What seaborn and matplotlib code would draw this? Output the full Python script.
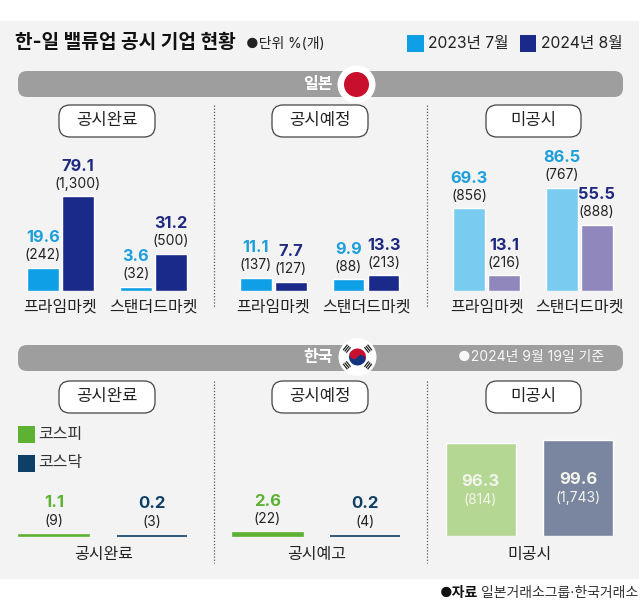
import numpy as np
import pandas as pd
import matplotlib
matplotlib.use('Agg')
import matplotlib.pyplot as plt
from matplotlib.patches import Rectangle, FancyBboxPatch, Circle, Wedge
import seaborn as sns

sns.set_theme(style='white')
plt.rcParams['font.family'] = ['Inter', 'Noto Sans CJK KR', 'DejaVu Sans']

# Japan data, % and (count)
markets = ['프라임마켓', '스탠더드마켓']
years = ['2023년 7월', '2024년 8월']
jp_done_23 = [19.6, 3.6]
jp_done_24 = [79.1, 31.2]
jp_done_n23 = ['(242)', '(32)']
jp_done_n24 = ['(1,300)', '(500)']
jp_plan_23 = [11.1, 9.9]
jp_plan_24 = [7.7, 13.3]
jp_plan_n23 = ['(137)', '(88)']
jp_plan_n24 = ['(127)', '(213)']
jp_none_23 = [69.3, 86.5]
jp_none_24 = [13.1, 55.5]
jp_none_n23 = ['(856)', '(767)']
jp_none_n24 = ['(216)', '(888)']

# Korea data
kr_groups = ['코스피', '코스닥']
kr_done = [1.1, 0.2]
kr_done_n = ['(9)', '(3)']
kr_plan = [2.6, 0.2]
kr_plan_n = ['(22)', '(4)']
kr_none = [96.3, 99.6]
kr_none_n = ['(814)', '(1,743)']

panel_titles = ['공시완료', '공시예정', '미공시']
kr_xlabels = ['공시완료', '공시예고', '미공시']

BLUE = '#0F9FE6'
NAVY = '#1A2A8A'
BLUE_TXT = '#1E9FDC'
NAVY_TXT = '#1F2A80'
GREEN = '#5DB233'
DEEP = '#0E3F66'
DARK = '#222222'
BG = '#F3F3F3'
GRAY = '#9E9E9E'

W, H = 640, 612
fig = plt.figure(figsize=(W / 100, H / 100), dpi=100, facecolor='white')

# full size axes in pixels for everything around the charts
bg = fig.add_axes([0, 0, 1, 1])
bg.set_xlim(0, W)
bg.set_ylim(H, 0)
bg.axis('off')
bg.add_patch(Rectangle((0, 21), 639, 558, fc=BG, ec='none'))


def add_text(x, y, s, size=11, color=DARK, ha='left', weight='normal'):
    bg.text(x, y, s, fontsize=size, color=color, ha=ha, va='center', fontweight=weight)


def add_pill(x0, x1, y0, y1, label):
    bg.add_patch(FancyBboxPatch((x0 + 11, y0 + 11), x1 - x0 - 22, y1 - y0 - 22,
                                boxstyle='round,pad=11', fc='white', ec='#444444', lw=0.9))
    add_text((x0 + x1) / 2, (y0 + y1) / 2 - 0.5, label, size=12, ha='center', weight='medium')


def add_band(y0, y1):
    bg.add_patch(FancyBboxPatch((18 + 9, y0 + 9), 605 - 18, y1 - y0 - 18,
                                boxstyle='round,pad=9', fc=GRAY, ec='none'))


# header
add_text(15, 42.5, '한-일 밸류업 공시 기업 현황', size=13.8, color='#111111', weight='bold')
add_text(246, 44, '●단위 %(개)', size=10)
bg.add_patch(Rectangle((407, 35), 17, 17, fc=BLUE, ec='none'))
add_text(428, 43.5, years[0], size=11.3)
bg.add_patch(Rectangle((520, 35), 16, 17, fc=NAVY, ec='none'))
add_text(541, 43.5, years[1], size=11.3)

# section bands and flags
add_band(71, 97)
add_band(345, 371)
add_text(318, 84, '일본', size=11.5, color='white', ha='center', weight='bold')
add_text(318, 357.5, '한국', size=11.5, color='white', ha='center', weight='bold')
add_text(458, 357.5, '●2024년 9월 19일 기준', size=10, color='#F7F7F7')

bg.add_patch(Circle((356.5, 84.5), 19, fc='white', ec='none'))
bg.add_patch(Circle((356.5, 84.5), 12.5, fc='#C8102E', ec='none'))

cx, cy = 357.5, 357
bg.add_patch(Circle((cx, cy), 19, fc='white', ec='none'))
# y axis is flipped here so angles run clockwise on screen
bg.add_patch(Wedge((cx, cy), 8.5, 213, 393, fc='#C8102E', ec='none'))
bg.add_patch(Wedge((cx, cy), 8.5, 33, 213, fc='#14347F', ec='none'))
bg.add_patch(Circle((cx - 3.6, cy - 2.3), 4.25, fc='#C8102E', ec='none'))
bg.add_patch(Circle((cx + 3.6, cy + 2.3), 4.25, fc='#14347F', ec='none'))
for ang in [38, 142, 218, 322]:
    a = np.deg2rad(ang)
    for d in [11.5, 13.5, 15.5]:
        px, py = cx + d * np.cos(a), cy + d * np.sin(a)
        tx, ty = -np.sin(a) * 3.5, np.cos(a) * 3.5
        bg.plot([px - tx, px + tx], [py - ty, py + ty], color='#222222', lw=0.9, solid_capstyle='butt')

# pills and dotted separators
pill_x = [(59, 155), (272, 368), (486, 581)]
for (x0, x1), t in zip(pill_x, panel_titles):
    add_pill(x0, x1, 105, 137, t)
    add_pill(x0, x1, 381, 413, t)
for x in [213.5, 426.5]:
    bg.plot([x, x], [105, 307], color='#555555', lw=0.9, ls=(0, (1, 1.5)))
    bg.plot([x, x], [381, 563], color='#555555', lw=0.9, ls=(0, (1, 1.5)))

# korea legend
bg.add_patch(Rectangle((18, 426), 16.5, 16.5, fc=GREEN, ec='none'))
add_text(38, 434, kr_groups[0], size=11.5, color='#333333')
bg.add_patch(Rectangle((18, 455), 16.5, 17, fc=DEEP, ec='none'))
add_text(38, 463, kr_groups[1], size=11.5, color='#333333')

# source
add_text(478, 593.5, '●자료', size=10, color='#111111', ha='right', weight='bold')
add_text(638, 593.5, '일본거래소그룹·한국거래소', size=10, color='#333333', ha='right')


def px_axes(x0, baseline, w, h):
    ax = fig.add_axes([x0 / W, 1 - baseline / H, w / W, h / H])
    ax.patch.set_alpha(0)
    sns.despine(ax=ax, left=True, bottom=True)
    return ax


def japan_panel(x0, v23, v24, n23, n24, colors):
    df = pd.DataFrame({'market': markets * 2,
                       'year': [years[0]] * 2 + [years[1]] * 2,
                       'value': v23 + v24})
    ax = px_axes(x0, 291, 185.4, 125)
    sns.barplot(data=df, x='market', y='value', hue='year', hue_order=years, palette=colors,
                width=0.755, gap=0.09, saturation=1, legend=False, ax=ax)
    ax.set_xlim(-0.5, 1.5)
    ax.set_ylim(0, 125 / 1.195)
    ax.set_xlabel('')
    ax.set_ylabel('')
    ax.set_yticks([])
    ax.tick_params(axis='x', length=0, pad=6, labelsize=11.5, labelcolor=DARK)
    for cont, vals, counts, col in zip(ax.containers, [v23, v24], [n23, n24], [BLUE_TXT, NAVY_TXT]):
        for bar, v, n in zip(cont, vals, counts):
            xc = bar.get_x() + bar.get_width() / 2
            ax.annotate(f'{v:.1f}', (xc, v), xytext=(0, 30 * 0.72), textcoords='offset points',
                        ha='center', va='center', fontsize=11.8, fontweight='bold', color=col)
            ax.annotate(n, (xc, v), xytext=(0, 12.5 * 0.72), textcoords='offset points',
                        ha='center', va='center', fontsize=10, color=DARK)


def korea_panel(x0, vals, counts, xlabel, colors, inside=False):
    df = pd.DataFrame({'group': kr_groups, 'value': vals})
    ax = px_axes(x0, 536, 195.4, 110)
    sns.barplot(data=df, x='group', y='value', hue='group', palette=colors,
                width=0.716, saturation=1, legend=False, ax=ax)
    ax.set_xlim(-0.5, 1.5)
    ax.set_ylim(0, 110 / 0.963)
    ax.set_xticks([])
    ax.set_yticks([])
    ax.set_ylabel('')
    ax.set_xlabel(xlabel, fontsize=11.5, color=DARK, labelpad=8)
    txt = [GREEN, DEEP]
    for i, (v, n) in enumerate(zip(vals, counts)):
        if inside:
            ax.annotate(f'{v:.1f}', (i, v / 2), xytext=(0, 8.5 * 0.72), textcoords='offset points',
                        ha='center', va='center', fontsize=12, fontweight='bold', color='#F2F5EC')
            ax.annotate(n, (i, v / 2), xytext=(0, -10 * 0.72), textcoords='offset points',
                        ha='center', va='center', fontsize=10, color='#F2F5EC')
        else:
            ax.annotate(f'{v:.1f}', (i, v), xytext=(0, 32 * 0.72), textcoords='offset points',
                        ha='center', va='center', fontsize=12, fontweight='bold', color=txt[i])
            ax.annotate(n, (i, v), xytext=(0, 14 * 0.72), textcoords='offset points',
                        ha='center', va='center', fontsize=10, color=DARK)
    if not inside:
        # bars this small would vanish without an edge
        for bar, col in zip(ax.patches, colors):
            bar.set_edgecolor(col)
            bar.set_linewidth(1.2)
            bar.set_clip_on(False)


japan_panel(14.15, jp_done_23, jp_done_24, jp_done_n23, jp_done_n24, [BLUE, NAVY])
japan_panel(227.0, jp_plan_23, jp_plan_24, jp_plan_n23, jp_plan_n24, [BLUE, NAVY])
japan_panel(440.3, jp_none_23, jp_none_24, jp_none_n23, jp_none_n24, ['#7ACBF0', '#9088BC'])

korea_panel(5.5, kr_done, kr_done_n, kr_xlabels[0], [GREEN, DEEP])
korea_panel(218.7, kr_plan, kr_plan_n, kr_xlabels[1], [GREEN, DEEP])
korea_panel(431.8, kr_none, kr_none_n, kr_xlabels[2], ['#B5D794', '#7A859F'], inside=True)

fig.savefig('out.png', dpi=100, facecolor='white')
